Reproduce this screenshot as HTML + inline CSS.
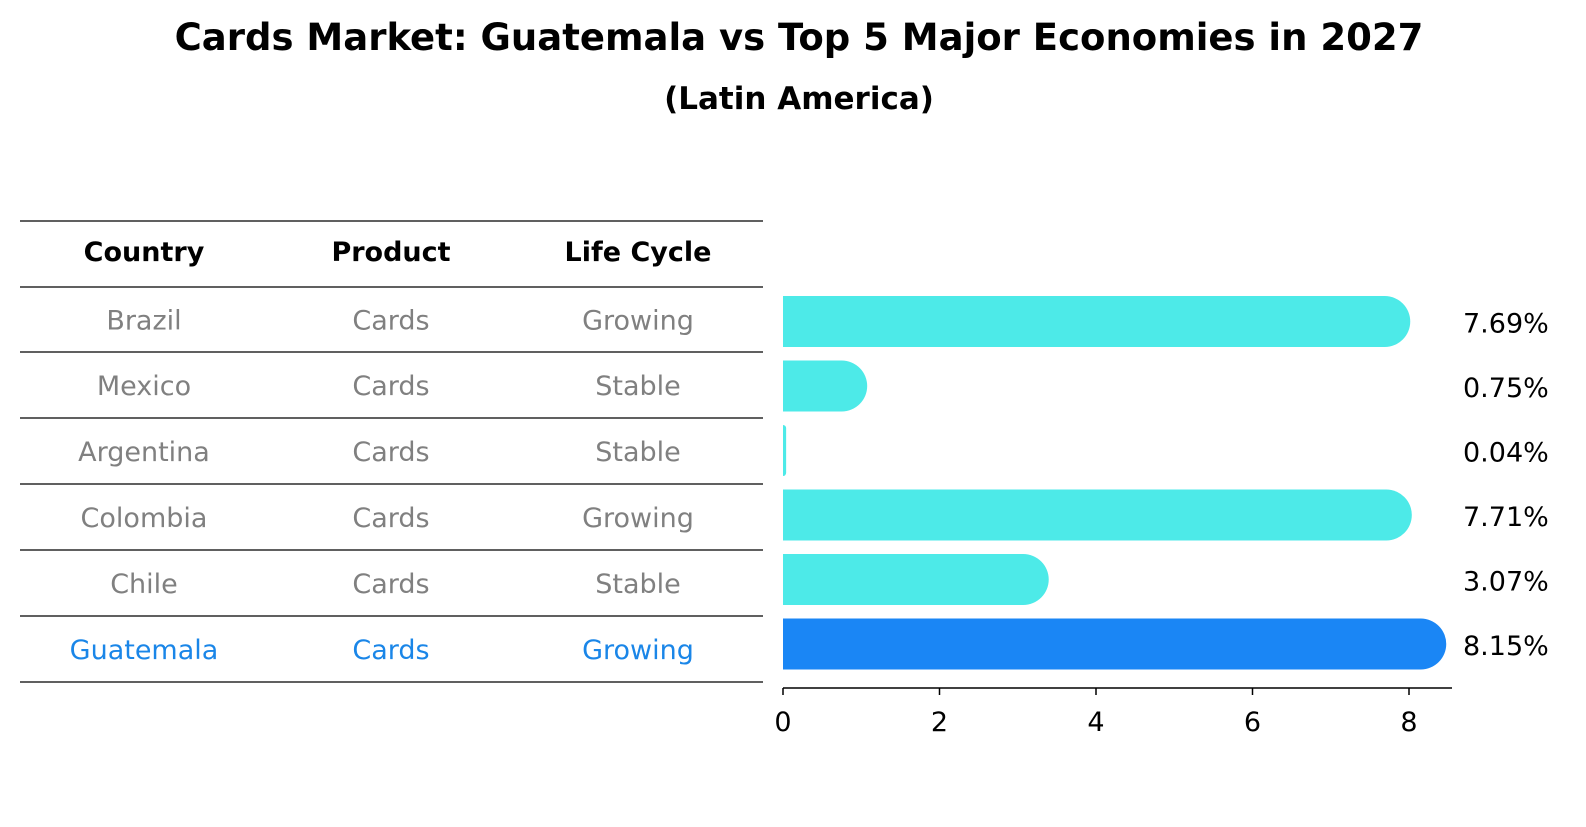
<!DOCTYPE html>
<html><head><meta charset="utf-8"><style>
body{margin:0;background:#fff;font-family:"DejaVu Sans","Liberation Sans",sans-serif;}
</style></head><body>
<svg id="c" width="1586" height="823" xmlns="http://www.w3.org/2000/svg" font-family="DejaVu Sans, Liberation Sans, sans-serif">
<rect width="1586" height="823" fill="#fff"/>
<text x="799" y="50" text-anchor="middle" font-size="37" font-weight="bold">Cards Market: Guatemala vs Top 5 Major Economies in 2027</text>
<text x="799" y="109" text-anchor="middle" font-size="31" font-weight="bold">(Latin America)</text>
<g id="table"></g>
<g id="bars"></g>
</svg>
<script>
const countries=["Brazil","Mexico","Argentina","Colombia","Chile","Guatemala"];
const products=["Cards","Cards","Cards","Cards","Cards","Cards"];
const lifeCycle=["Growing","Stable","Stable","Growing","Stable","Growing"];
const values=[7.69,0.75,0.04,7.71,3.07,8.15];
const valueLabels=["7.69%","0.75%","0.04%","7.71%","3.07%","8.15%"];
const xTicks=[0,2,4,6,8];
const NS="http://www.w3.org/2000/svg";
function mk(t,a,p){const e=document.createElementNS(NS,t);for(const k in a)e.setAttribute(k,a[k]);p.appendChild(e);return e;}
const tbl=document.getElementById('table');
const lineYs=[221,287,352,418,484,550,616,682];
lineYs.forEach((y,i)=>{const l=mk('line',{x1:20,x2:763,y1:y,y2:y,stroke:'#000','stroke-width':1.2},tbl);

});
const colX=[144,391,638];
["Country","Product","Life Cycle"].forEach((h,i)=>{const t=mk('text',{x:colX[i],y:261,'text-anchor':'middle','font-size':27,'font-weight':'bold'},tbl);t.textContent=h;

});
countries.forEach((c,r)=>{const y=(lineYs[r+1]+lineYs[r+2])/2+10;const col=r===countries.length-1?'#1a86e8':'#808080';
[c,products[r],lifeCycle[r]].forEach((v,i)=>{const t=mk('text',{x:colX[i],y:y,'text-anchor':'middle','font-size':27,fill:col},tbl);t.textContent=v;

});});
const bars=document.getElementById('bars');
const x0=783,scale=78.25;const X=v=>x0+v*scale;
const rowY=r=>321.5+r*64.5;const h=51,R=25.5;
values.forEach((v,r)=>{const w=X(v)-x0;const ext=w>R?w+R:w;const rr=Math.min(R,ext);
const top=rowY(r)-h/2;const col=r===values.length-1?'#1a86f5':'#4deae8';
const d=`M${x0},${top} H${x0+ext-rr} A${rr},${rr} 0 0 1 ${x0+ext},${top+rr} V${top+h-rr} A${rr},${rr} 0 0 1 ${x0+ext-rr},${top+h} H${x0} Z`;
const b=mk('path',{d:d,fill:col},bars);


const t=mk('text',{x:1463,y:rowY(r)+11,'font-size':27},bars);t.textContent=valueLabels[r];

});
const ax=mk('line',{x1:x0,x2:1452,y1:688,y2:688,stroke:'#000','stroke-width':1.5},bars);


xTicks.forEach(v=>{const tk=mk('line',{x1:X(v),x2:X(v),y1:688,y2:695,stroke:'#000','stroke-width':1.5},bars);


const t=mk('text',{x:X(v),y:731,'text-anchor':'middle','font-size':27},bars);t.textContent=v;

});
</script>
</body></html>
